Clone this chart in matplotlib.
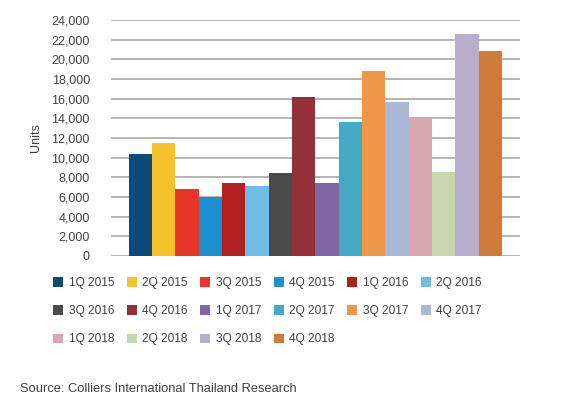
import matplotlib
matplotlib.use("Agg")
import matplotlib.pyplot as plt
from matplotlib.patches import Patch
from matplotlib.ticker import FuncFormatter, MultipleLocator

plt.rcParams['font.family'] = ['Liberation Sans', 'DejaVu Sans']

quarters = ["1Q 2015", "2Q 2015", "3Q 2015", "4Q 2015",
            "1Q 2016", "2Q 2016", "3Q 2016", "4Q 2016",
            "1Q 2017", "2Q 2017", "3Q 2017", "4Q 2017",
            "1Q 2018", "2Q 2018", "3Q 2018", "4Q 2018"]
units = [10400, 11450, 6800, 6000,
         7400, 7100, 8400, 16150,
         7450, 13600, 18800, 15650,
         14000, 8550, 22600, 20850]
colors = ["#0d4a7c", "#f6c22c", "#e8352a", "#1b8fd0",
          "#b02120", "#6dbde6", "#4a4a4a", "#93303a",
          "#7f66a4", "#43a9c4", "#f0984a", "#aab8d6",
          "#d9a7ae", "#c8d5b1", "#b6aeca", "#cf7b37"]

W, H = 562, 400
fig = plt.figure(figsize=(W / 100, H / 100), dpi=100)
ax = fig.add_axes([110.7 / W, 1 - 256 / H, (520 - 110.7) / W, (256 - 20) / H])

x = list(range(len(units)))
ax.bar(x, units, width=1.0, color=colors, zorder=3)
ax.set_xlim(-1.27, len(units) - 1 + 1.27)
ax.set_ylim(0, 24000)
ax.yaxis.set_major_locator(MultipleLocator(2000))
ax.yaxis.set_major_formatter(FuncFormatter(lambda v, p: f"{int(v):,}"))
ax.grid(axis='y', color='#a8a8a8', linewidth=1.2, zorder=0)
ax.set_axisbelow(True)
for s in ax.spines.values():
    s.set_visible(False)
ax.set_xticks([])
ax.tick_params(axis='y', length=0, pad=15, labelsize=9, labelcolor='#404040')
ax.set_ylabel("Units", fontsize=9, color='#404040', labelpad=7)

handles = [Patch(facecolor=c) for c in colors]
ncol = 6
nrows = 3
order = []
for c in range(ncol):
    for r in range(nrows):
        i = r * ncol + c
        if i < len(quarters):
            order.append(i)
fig.legend([handles[i] for i in order], [quarters[i] for i in order],
           loc='upper left', bbox_to_anchor=(53 / W, 1 - 277 / H),
           ncol=ncol, frameon=False, fontsize=8.6, borderpad=0, borderaxespad=0,
           handlelength=0.85, handleheight=0.85, handletextpad=0.45,
           columnspacing=1.05, labelspacing=1.36, labelcolor='#404040')

fig.text(20 / W, 1 - 389 / H, "Source: Colliers International Thailand Research",
         fontsize=9.25, color='#404040', va='center', ha='left')

fig.savefig("out.png", dpi=100, facecolor='white')
